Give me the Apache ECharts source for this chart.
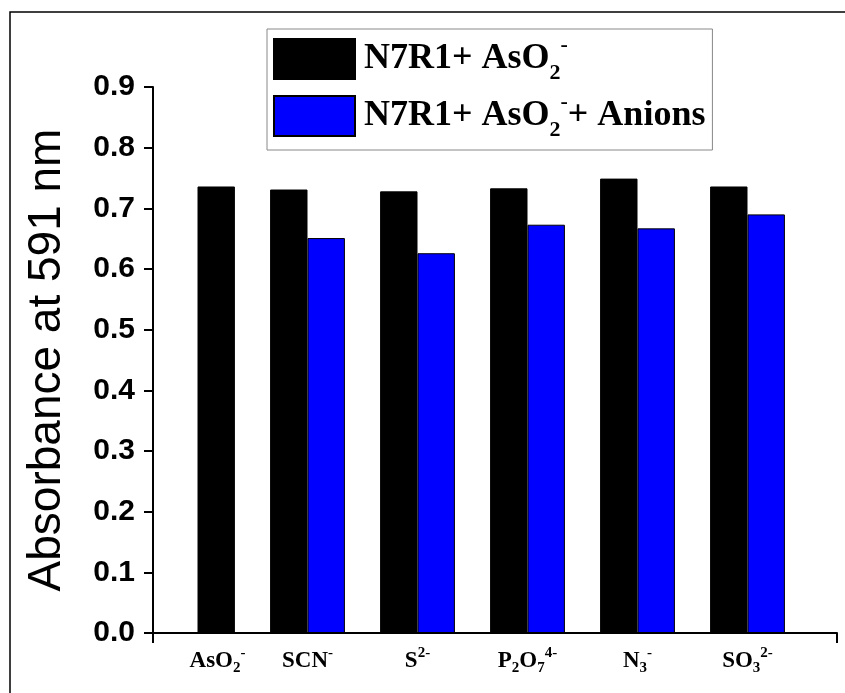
<!DOCTYPE html>
<html>
<head>
<meta charset="utf-8">
<script src="https://cdn.jsdelivr.net/npm/echarts@6/dist/echarts.min.js"></script>
<style>
  html, body { margin: 0; padding: 0; background: #fff; }
  #main { width: 845px; height: 693px; }
</style>
</head>
<body>
<div id="main"></div>
<script>
/* 数据 */
var anions = ['AsO{sub|2}{sup|-}', 'SCN{sup|-}', 'S{sup|2-}', 'P{sub|2}O{sub|7}{sup|4-}', 'N{sub|3}{sup|-}', 'SO{sub|3}{sup|2-}'];
var withAsO2 = [0.736, 0.731, 0.728, 0.733, 0.749, 0.736];
var withAnions = [null, 0.651, 0.626, 0.673, 0.667, 0.690];
var seriesNames = ['N7R1+ AsO2-', 'N7R1+ AsO2-+ Anions'];
var legendLabels = ['N7R1+ AsO{sub|2}{sup|-}', 'N7R1+ AsO{sub|2}{sup|-}+ Anions'];
var yTicks = { min: 0, max: 0.9, step: 0.1 };

var chart = echarts.init(document.getElementById('main'), null, { renderer: 'canvas' });

// AsO2- 单独一根柱子画在第二个位置(和原图一致)
var blackData = withAsO2.map(function (v, i) { return i === 0 ? '-' : v; });
var blueData = withAnions.map(function (v, i) {
    if (i === 0) return { value: withAsO2[0], itemStyle: { color: '#000000' } };
    return v;
});

/*下标上标样式*/
function scriptStyle(size, lh, va) {
    return { fontSize: size, lineHeight: lh, verticalAlign: va, fontFamily: 'Liberation Serif', fontWeight: 'bold', color: '#000' };
}

var option = {
    backgroundColor: '#fff',
    animation: false,
    graphic: [{
        type: 'rect',
        shape: { x: 10, y: 12, width: 900, height: 900 },
        style: { fill: 'none', stroke: '#000', lineWidth: 1.5 },
        silent: true
    }],
    legend: {
        orient: 'vertical',
        left: 267,
        top: 29,
        padding: [5, 7, 9, 6],
        borderColor: '#888',
        borderWidth: 1,
        icon: 'rect',
        itemWidth: 81,
        itemHeight: 40,
        itemGap: 7,
        data: seriesNames,
        formatter: function (name) {
            return '{sp|}' + legendLabels[seriesNames.indexOf(name)];
        },
        textStyle: {
            fontFamily: 'Liberation Serif',
            fontWeight: 'bold',
            fontSize: 36,
            lineHeight: 50,
            color: '#000',
            rich: {
                sp: { width: 4 },
                sub: scriptStyle(22, 10, 'bottom'),
                sup: scriptStyle(22, 32, 'top')
            }
        }
    },
    grid: [
        { left: 153, right: 8, top: 87, bottom: 60 },
        { left: 142.5, right: 42.5, top: 87, bottom: 60 }
    ],
    xAxis: [{
        gridIndex: 0,
        type: 'value',
        min: 0,
        max: 1,
        interval: 1,
        axisLine: { show: true, lineStyle: { color: '#000', width: 2 } },
        axisTick: { show: true, inside: false, length: 10, lineStyle: { color: '#000', width: 2 } },
        axisLabel: { show: false },
        splitLine: { show: false }
    }, {
        gridIndex: 1,
        type: 'category',
        data: anions,
        axisLine: { show: false },
        axisTick: { show: false },
        splitLine: { show: false },
        axisLabel: {
            margin: 13,
            interval: 0,
            fontFamily: 'Liberation Serif',
            fontWeight: 'bold',
            fontSize: 23,
            lineHeight: 30,
            color: '#000',
            formatter: function (v, i) { return i === 0 ? '{gap|}' + v : v; },
            rich: {
                gap: { width: 40 },
                sub: scriptStyle(15, 16, 'bottom'),
                sup: scriptStyle(15, 16, 'top')
            }
        }
    }],
    yAxis: [{
        gridIndex: 0,
        type: 'value',
        min: yTicks.min,
        max: yTicks.max,
        interval: yTicks.step,
        name: 'Absorbance at 591 nm',
        nameLocation: 'middle',
        nameGap: 83,
        nameTextStyle: { fontFamily: 'Liberation Sans', fontSize: 46, color: '#000' },
        axisLine: { show: true, lineStyle: { color: '#000', width: 2 } },
        axisTick: { show: true, inside: false, length: 9, lineStyle: { color: '#000', width: 2 } },
        axisLabel: {
            margin: 18,
            fontFamily: 'Liberation Sans',
            fontWeight: 'bold',
            fontSize: 30,
            color: '#000',
            formatter: function (v) { return v.toFixed(1); }
        },
        splitLine: { show: false }
    }, {
        gridIndex: 1,
        type: 'value',
        min: yTicks.min,
        max: yTicks.max,
        show: false
    }],
    series: [{
        name: seriesNames[0],
        type: 'bar',
        xAxisIndex: 1,
        yAxisIndex: 1,
        data: blackData,
        barGap: '0%',
        barCategoryGap: '32%',
        itemStyle: { color: '#000000', borderColor: '#000', borderWidth: 1 }
    }, {
        name: seriesNames[1],
        type: 'bar',
        xAxisIndex: 1,
        yAxisIndex: 1,
        data: blueData,
        barGap: '0%',
        barCategoryGap: '32%',
        itemStyle: { color: '#0000ff', borderColor: '#000', borderWidth: 1 }
    }]
};

chart.setOption(option);
</script>
</body>
</html>
